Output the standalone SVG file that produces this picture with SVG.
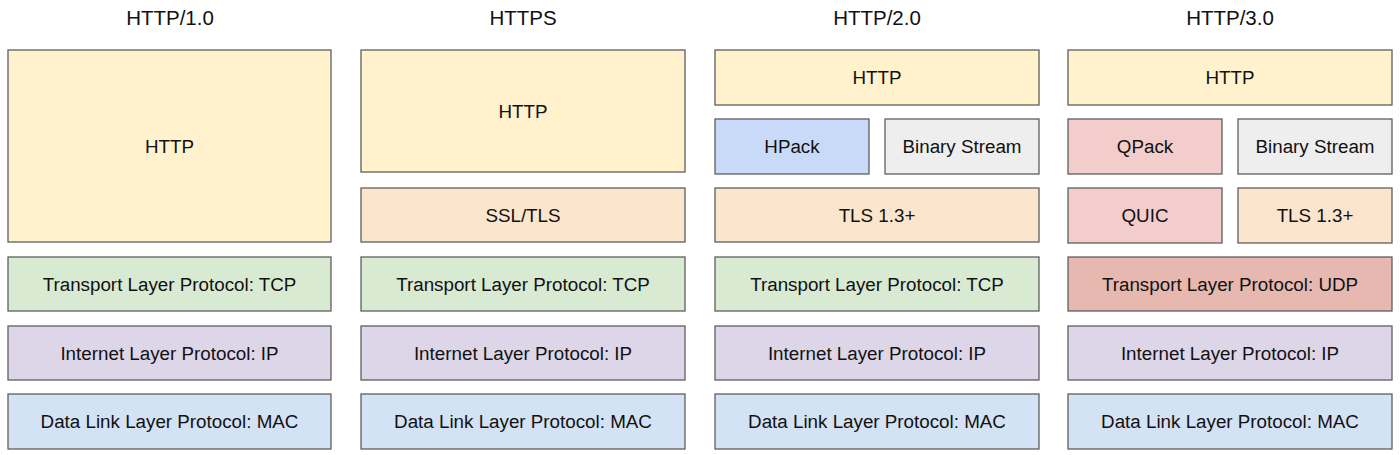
<svg xmlns="http://www.w3.org/2000/svg" width="1400" height="455" viewBox="0 0 1400 455">
<style>
rect{stroke:#5f5f5f;stroke-width:1.3}
text{font-family:"Liberation Sans","DejaVu Sans",sans-serif;font-size:18.8px;fill:#111;text-anchor:middle;dominant-baseline:central}
.t{font-size:20.5px}
.y{fill:#fff2cc}.o{fill:#fbe5cd}.g{fill:#d9ead3}.p{fill:#ddd5e8}.b{fill:#d3e2f4}
.hp{fill:#c9daf8}.gr{fill:#eeeeee}.pk{fill:#f3cccc}.udp{fill:#e6b8af}
</style>
<rect width="1400" height="455" fill="#fff" style="stroke:none"/>
<g id="titles">
<text class="t" x="170" y="17">HTTP/1.0</text>
<text class="t" x="523" y="17">HTTPS</text>
<text class="t" x="877" y="17">HTTP/2.0</text>
<text class="t" x="1230" y="17">HTTP/3.0</text>
</g>
<g id="connectors"></g>
<g id="col1">
<g id="c1-http"><rect class="y" x="8" y="50" width="323" height="192"/><text x="169.5" y="146">HTTP</text></g>
<g id="c1-tcp"><rect class="g" x="8" y="257" width="323" height="54"/><text x="169.5" y="284">Transport Layer Protocol: TCP</text></g>
<g id="c1-ip"><rect class="p" x="8" y="326" width="323" height="54"/><text x="169.5" y="353">Internet Layer Protocol: IP</text></g>
<g id="c1-mac"><rect class="b" x="8" y="394" width="323" height="55"/><text x="169.5" y="421.5">Data Link Layer Protocol: MAC</text></g>
</g>
<g id="col2">
<g id="c2-http"><rect class="y" x="361" y="50" width="324" height="122"/><text x="523" y="111">HTTP</text></g>
<g id="c2-ssl"><rect class="o" x="361" y="188" width="324" height="54"/><text x="523" y="215">SSL/TLS</text></g>
<g id="c2-tcp"><rect class="g" x="361" y="257" width="324" height="54"/><text x="523" y="284">Transport Layer Protocol: TCP</text></g>
<g id="c2-ip"><rect class="p" x="361" y="326" width="324" height="54"/><text x="523" y="353">Internet Layer Protocol: IP</text></g>
<g id="c2-mac"><rect class="b" x="361" y="394" width="324" height="55"/><text x="523" y="421.5">Data Link Layer Protocol: MAC</text></g>
</g>
<g id="col3">
<g id="c3-http"><rect class="y" x="715" y="50" width="324" height="55"/><text x="877" y="77.5">HTTP</text></g>
<g id="c3-hpack"><rect class="hp" x="715" y="119" width="154" height="55"/><text x="792" y="146.5">HPack</text></g>
<g id="c3-bin"><rect class="gr" x="885" y="119" width="154" height="55"/><text x="962" y="146.5">Binary Stream</text></g>
<g id="c3-tls"><rect class="o" x="715" y="188" width="324" height="54"/><text x="877" y="215">TLS 1.3+</text></g>
<g id="c3-tcp"><rect class="g" x="715" y="257" width="324" height="54"/><text x="877" y="284">Transport Layer Protocol: TCP</text></g>
<g id="c3-ip"><rect class="p" x="715" y="326" width="324" height="54"/><text x="877" y="353">Internet Layer Protocol: IP</text></g>
<g id="c3-mac"><rect class="b" x="715" y="394" width="324" height="55"/><text x="877" y="421.5">Data Link Layer Protocol: MAC</text></g>
</g>
<g id="col4">
<g id="c4-http"><rect class="y" x="1068" y="50" width="324" height="55"/><text x="1230" y="77.5">HTTP</text></g>
<g id="c4-qpack"><rect class="pk" x="1068" y="119" width="154" height="55"/><text x="1145" y="146.5">QPack</text></g>
<g id="c4-bin"><rect class="gr" x="1238" y="119" width="154" height="55"/><text x="1315" y="146.5">Binary Stream</text></g>
<g id="c4-quic"><rect class="pk" x="1068" y="188" width="154" height="55"/><text x="1145" y="215.5">QUIC</text></g>
<g id="c4-tls"><rect class="o" x="1238" y="188" width="154" height="55"/><text x="1315" y="215.5">TLS 1.3+</text></g>
<g id="c4-udp"><rect class="udp" x="1068" y="257" width="324" height="54"/><text x="1230" y="284">Transport Layer Protocol: UDP</text></g>
<g id="c4-ip"><rect class="p" x="1068" y="326" width="324" height="54"/><text x="1230" y="353">Internet Layer Protocol: IP</text></g>
<g id="c4-mac"><rect class="b" x="1068" y="394" width="324" height="55"/><text x="1230" y="421.5">Data Link Layer Protocol: MAC</text></g>
</g>
</svg>
